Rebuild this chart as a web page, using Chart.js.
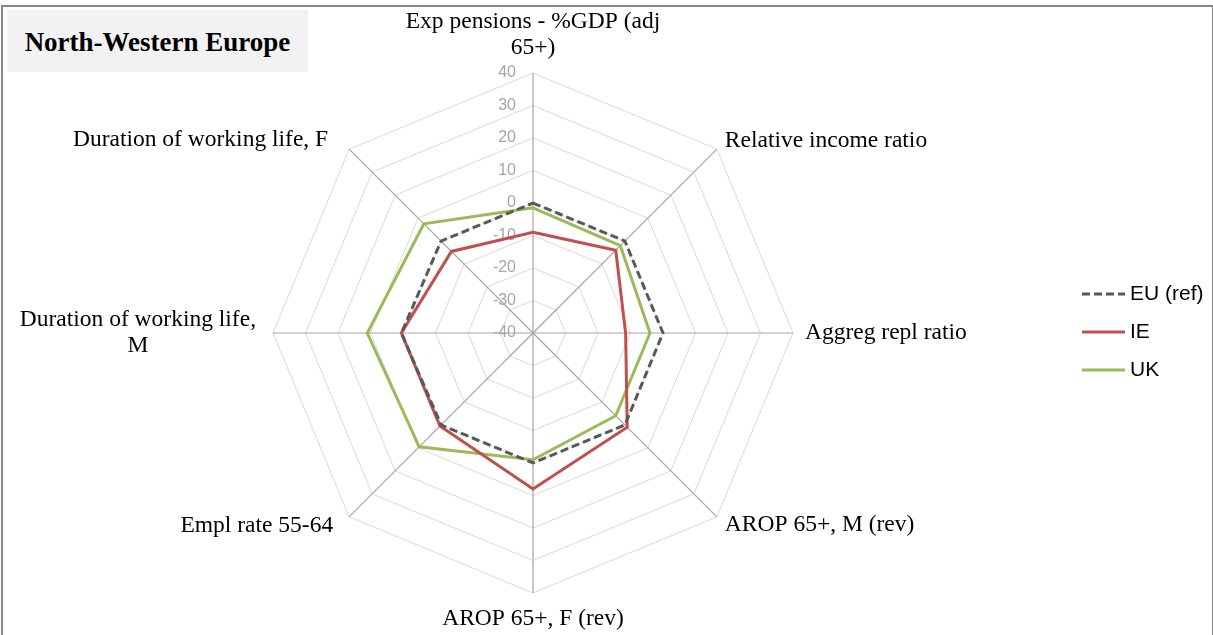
<!DOCTYPE html>
<html>
<head>
<meta charset="utf-8">
<script src="https://cdn.jsdelivr.net/npm/chart.js@4"></script>
<style>
  body { margin: 0; background: #fff; }
  #wrap { position: relative; width: 1213px; height: 635px; overflow: hidden; }
  #frame { position: absolute; left: 1px; top: 5px; width: 1209px; height: 640px;
           border-left: 2px solid #868686; border-top: 2px solid #868686; border-right: 2px solid #868686; }
  #title { position: absolute; left: 7px; top: 10px; width: 301px; height: 62px; background: #f2f2f2;
           font: bold 27px "Liberation Serif", serif; color: #000; line-height: 64px; text-align: center; }
  canvas { position: absolute; left: 0; top: 0; }
</style>
</head>
<body>
<div id="wrap">
  <div id="frame"></div>
  <div id="title">North-Western Europe</div>
  <canvas id="radar" width="1213" height="635"></canvas>
</div>
<script>
// axis names (wrapped like the original)
const categories = [
    ['Exp pensions - %GDP (adj', '65+)'],
    ['Relative income ratio'],
    ['Aggreg repl ratio'],
    ['AROP 65+, M (rev)'],
    ['AROP 65+, F (rev)'],
    ['Empl rate 55-64'],
    ['Duration of working life,', 'M'],
    ['Duration of working life, F']
];

const euValues = [0, 0, 0, 0, 0, 0, 0.5, 0];
const ieValues = [-9, -4, -11.5, 1, 8, 0.5, 0.5, -4.5];
const ukValues = [-1.5, -2, -4, -4, -1, 9.5, 11, 7.5];

const tickValues = [-40, -30, -20, -10, 0, 10, 20, 30, 40];

const seriesNames = ['EU (ref)', 'IE', 'UK'];
const seriesColors = ['#595959', '#c0504d', '#9bbb59'];

// label nudges from the outer vertex: [dx, dy, align]
const labelLayout = [
    [0, -12, 'center'],
    [8, -8, 'left'],
    [12, 0, 'left'],
    [8, 8, 'left'],
    [0, 13, 'center'],
    [-16, 9, 'right'],
    [-17, 0, 'right'],
    [-21, -9, 'right']
];

const extras = {
    id: 'extras',
    beforeDatasetsDraw(chart) {
        const ctx = chart.ctx;
        const scale = chart.scales.r;
        // tick labels, right aligned just left of the vertical axis
        ctx.save();
        ctx.font = '16px "Liberation Sans", sans-serif';
        ctx.fillStyle = '#a6a6a6';
        ctx.textAlign = 'right';
        ctx.textBaseline = 'middle';
        tickValues.forEach(v => {
            const d = scale.getDistanceFromCenterForValue(v);
            ctx.fillText(String(v), scale.xCenter - 17, scale.yCenter - d);
        });
        ctx.restore();
    },
    afterDraw(chart) {
        const ctx = chart.ctx;
        const scale = chart.scales.r;
        const outer = scale.getDistanceFromCenterForValue(40);

        // point labels
        ctx.save();
        ctx.font = '23.5px "Liberation Serif", serif';
        ctx.fillStyle = '#000';
        const lh = 26;
        categories.forEach((lines, i) => {
            const p = scale.getPointPosition(i, outer);
            const [dx, dy, align] = labelLayout[i];
            let x = p.x + dx;
            let y = p.y + dy;
            const h = lines.length * lh;
            let top;
            if (i === 0) top = y - h;
            else if (i === 4) top = y;
            else top = y - h / 2;
            ctx.textBaseline = 'middle';
            if (lines.length > 1 && align !== 'center') {
                // wrapped block: centre lines within the widest one
                const w = Math.max(...lines.map(l => ctx.measureText(l).width));
                const cx = align === 'right' ? x - w / 2 : x + w / 2;
                ctx.textAlign = 'center';
                lines.forEach((l, k) => ctx.fillText(l, cx, top + lh * k + lh / 2));
            } else {
                ctx.textAlign = align;
                lines.forEach((l, k) => ctx.fillText(l, x, top + lh * k + lh / 2));
            }
        });
        ctx.restore();

        // legend
        ctx.save();
        ctx.font = '21px "Liberation Sans", sans-serif';
        ctx.textAlign = 'left';
        ctx.textBaseline = 'middle';
        seriesNames.forEach((name, k) => {
            const y = 294 + k * 38;
            ctx.beginPath();
            ctx.strokeStyle = seriesColors[k];
            ctx.lineWidth = 3;
            ctx.setLineDash(k === 0 ? [8, 4] : []);
            ctx.moveTo(1082, y);
            ctx.lineTo(1125, y);
            ctx.stroke();
            ctx.setLineDash([]);
            ctx.fillStyle = '#000';
            ctx.fillText(name, 1130, y);
        });
        ctx.restore();
    }
};

const radar = new Chart(document.getElementById('radar'), {
    type: 'radar',
    data: {
        labels: categories,
        datasets: [
            { label: seriesNames[0], data: euValues, borderColor: seriesColors[0], borderWidth: 3,
              borderDash: [8, 4], fill: false, pointRadius: 0, pointHoverRadius: 0 },
            { label: seriesNames[1], data: ieValues, borderColor: seriesColors[1], borderWidth: 3,
              fill: false, pointRadius: 0, pointHoverRadius: 0 },
            { label: seriesNames[2], data: ukValues, borderColor: seriesColors[2], borderWidth: 3,
              fill: false, pointRadius: 0, pointHoverRadius: 0 }
        ]
    },
    options: {
        responsive: false,
        animation: false,
        devicePixelRatio: 1,
        layout: { padding: { left: 273, top: 73, right: 420, bottom: 42 } },
        elements: { line: { tension: 0 } },
        plugins: { legend: { display: false }, tooltip: { enabled: false } },
        scales: {
            r: {
                min: -40,
                max: 40,
                ticks: { stepSize: 10, display: false },
                grid: { color: '#d9d9d9', lineWidth: 1 },
                angleLines: { color: '#a6a6a6', lineWidth: 1.2 },
                pointLabels: { display: false }
            }
        }
    },
    plugins: [extras]
});
</script>
</body>
</html>
